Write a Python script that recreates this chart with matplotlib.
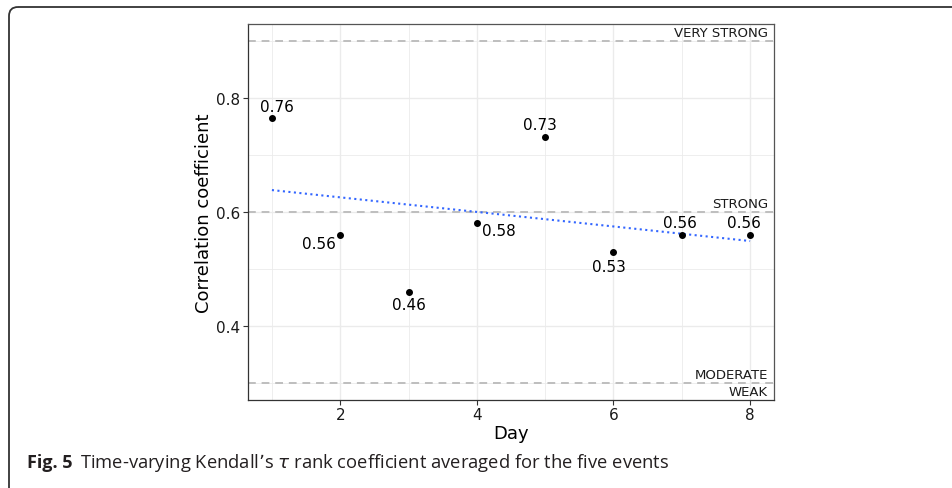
import numpy as np
import matplotlib
matplotlib.use("Agg")
import matplotlib.pyplot as plt
from matplotlib.patches import FancyBboxPatch
from matplotlib.ticker import FixedLocator

plt.rcParams["font.family"] = ["DejaVu Sans"]

# data
days = [1, 2, 3, 4, 5, 6, 7, 8]
tau = [0.765, 0.56, 0.46, 0.581, 0.732, 0.53, 0.56, 0.56]
point_labels = ["0.76", "0.56", "0.46", "0.58", "0.73", "0.53", "0.56", "0.56"]
# label placement (pixels from the point, alignment), repel-style
label_offsets = [(5, 11), (-4, -9), (0, -13), (5, -8), (-5, 12), (-5, -15), (-2, 12), (-6, 12)]
label_ha = ["center", "right", "center", "left", "center", "center", "center", "center"]

level_values = [0.9, 0.6, 0.3]
level_names = ["VERY STRONG", "STRONG", "MODERATE"]

W, H, DPI = 953, 489, 100
fig = plt.figure(figsize=(W / DPI, H / DPI), dpi=DPI, facecolor="white")

# page frame (rounded box, cut by the image edge)
bg = fig.add_axes([0, 0, 1, 1], zorder=0)
bg.set_xlim(0, W)
bg.set_ylim(H, 0)
bg.axis("off")
bg.add_patch(FancyBboxPatch((9, 8), 1200, 800, boxstyle="round,pad=0,rounding_size=9",
                            fill=False, edgecolor="#333333", linewidth=1.3))

ax = fig.add_axes([248 / W, (H - 400.7) / H, 526 / W, (400.7 - 25) / H], zorder=1)
ax.set_facecolor("white")
ax.set_xlim(0.65, 8.35)
ax.set_ylim(0.27, 0.93)

ax.xaxis.set_major_locator(FixedLocator([2, 4, 6, 8]))
ax.xaxis.set_minor_locator(FixedLocator([1, 3, 5, 7]))
ax.yaxis.set_major_locator(FixedLocator([0.4, 0.6, 0.8]))
ax.yaxis.set_minor_locator(FixedLocator([0.3, 0.5, 0.7, 0.9]))
ax.grid(which="major", color="#ebebeb", linewidth=1.0)
ax.grid(which="minor", color="#ebebeb", linewidth=0.6)
ax.set_axisbelow(True)
ax.tick_params(which="major", length=3.5, width=0.8, color="#333333",
               labelsize=11, labelcolor="#1a1a1a", pad=2)
ax.tick_params(which="minor", length=0)
ax.set_yticklabels(["0.4", "0.6", "0.8"])
for s in ax.spines.values():
    s.set_color("#333333")
    s.set_linewidth(0.9)
for s in ("top", "right"):
    ax.spines[s].set_color("#555555")

# strength thresholds
for v in level_values:
    ax.axhline(v, color="#bebebe", linewidth=1.4, dashes=(4, 3), zorder=1)
lab_x = 1 - 6 / 526
trans = ax.get_yaxis_transform()
for v, name in zip(level_values, level_names):
    ax.annotate(name, (lab_x, v), xycoords=trans, xytext=(0, 2), textcoords="offset pixels",
                ha="right", va="bottom", fontsize=9.5, color="#1a1a1a")
ax.annotate("WEAK", (lab_x, 0.3), xycoords=trans, xytext=(0, -2), textcoords="offset pixels",
            ha="right", va="top", fontsize=9.5, color="#1a1a1a")

# linear trend
slope, icpt = np.polyfit(days, tau, 1)
xs = np.array([min(days), max(days)])
ax.plot(xs, icpt + slope * xs, linestyle=":", color="#3366ff", linewidth=1.5, zorder=2)

ax.scatter(days, tau, s=16, color="black", zorder=3)
for d, t, lab, off, ha in zip(days, tau, point_labels, label_offsets, label_ha):
    ax.annotate(lab, (d, t), xytext=off, textcoords="offset pixels",
                ha=ha, va="center", fontsize=11, color="black", zorder=4)

ax.set_xlabel("Day", fontsize=13, labelpad=1)
ax.set_ylabel("Correlation coefficient", fontsize=13, labelpad=2)

# caption
cap_y = 1 - 463 / H
fig.canvas.draw()
t1 = fig.text(27 / W, cap_y, "Fig. 5", fontsize=13, fontweight="bold",
              family="Open Sans", color="#231f20", va="center")
r = fig.canvas.get_renderer()
bb = t1.get_window_extent(r)
fig.text((bb.x1 + 8) / W, cap_y, "Time-varying Kendall\u2019s $\\tau$ rank coefficient averaged for the five events",
         fontsize=13.2, family="Open Sans", color="#231f20", va="center")

fig.savefig("out.png", dpi=DPI, facecolor="white")
